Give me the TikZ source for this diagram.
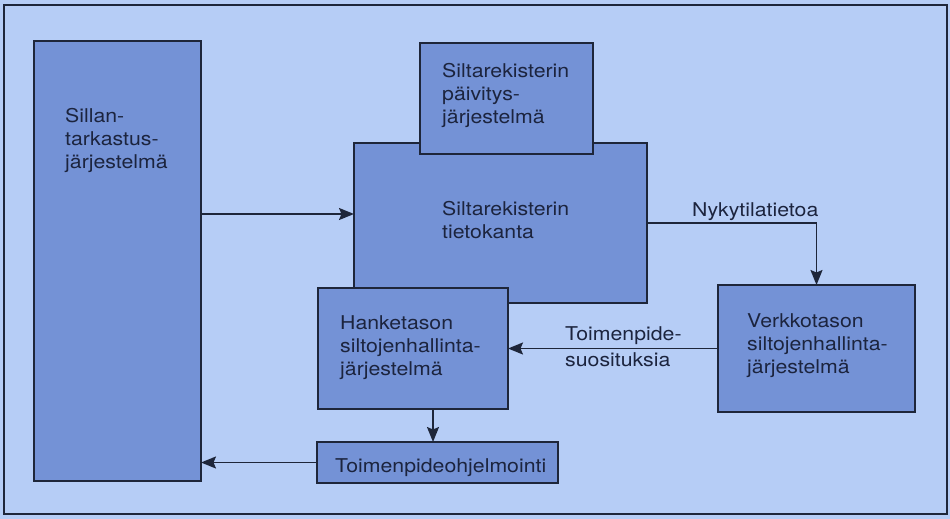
\documentclass[tikz,border=0pt]{standalone}
\usepackage{fontspec}
\setmainfont{TeX Gyre Heros}[FakeStretch=1.12]
\usetikzlibrary{arrows.meta}
\definecolor{bgc}{RGB}{182,205,246}
\definecolor{boxc}{RGB}{116,146,214}
\definecolor{ink}{RGB}{28,36,62}
\definecolor{linec}{RGB}{30,38,58}
\begin{document}
\begin{tikzpicture}[x=1pt,y=-1pt,
  sysbox/.style={draw=linec,line width=2pt,fill=boxc,inner sep=0pt,outer sep=0pt},
  txt/.style={inner sep=0pt,anchor=base west,align=left,text=ink,font=\fontsize{19}{23}\selectfont},
  arr/.style={draw=linec,line width=1.7pt,-{Stealth[length=15pt,width=12pt,inset=2.5pt]}}]
\useasboundingbox (0,0) rectangle (950,519);
\fill[bgc] (0,0) rectangle (950,519);
\draw[linec,line width=2pt] (4,5) rectangle (947,514);
% boxes
\node[sysbox,minimum width=167pt,minimum height=440pt] (sill) at (117.5,261) {};
\node[sysbox,minimum width=293pt,minimum height=160pt] (tiet) at (500.5,223) {};
\node[sysbox,minimum width=173pt,minimum height=111pt] (paiv) at (506.5,98.5) {};
\node[sysbox,minimum width=190pt,minimum height=121pt] (hank) at (413,348.5) {};
\node[sysbox,minimum width=241pt,minimum height=41pt] (ohj) at (437.5,462.5) {};
\node[sysbox,minimum width=197pt,minimum height=127pt] (verk) at (816.5,348.5) {};
% texts (anchor = baseline of last line)
\node[txt] (tsill) at (65,168) {Sillan-\\tarkastus-\\järjestelmä};
\node[txt] (tpaiv) at (442,123) {Siltarekisterin\\päivitys-\\järjestelmä};
\node[txt] (ttiet) at (442,238) {Siltarekisterin\\tietokanta};
\node[txt] (thank) at (340,375) {Hanketason\\siltojenhallinta-\\järjestelmä};
\node[txt] (tohj) at (335,472) {Toimenpideohjelmointi};
\node[txt] (tverk) at (747,373) {Verkkotason\\siltojenhallinta-\\järjestelmä};
\node[txt] (lnyk) at (692,216) {Nykytilatietoa};
\node[txt,font=\fontsize{19}{26}\selectfont] (ltoim) at (565,366) {Toimenpide-\\suosituksia};
% connectors
\coordinate (ya) at (0,214);
\coordinate (yb) at (0,223);
\coordinate (xc) at (433,0);
\draw[arr] (sill.east|-ya) -- (tiet.west|-ya);
\draw[arr] (tiet.east|-yb) -| (verk.north);
\draw[arr] (verk.west) -- (hank.east|-verk.west);
\draw[arr] (hank.south-|xc) -- (ohj.north-|xc);
\draw[arr] (ohj.west) -- (sill.east|-ohj.west);
\end{tikzpicture}
\end{document}
